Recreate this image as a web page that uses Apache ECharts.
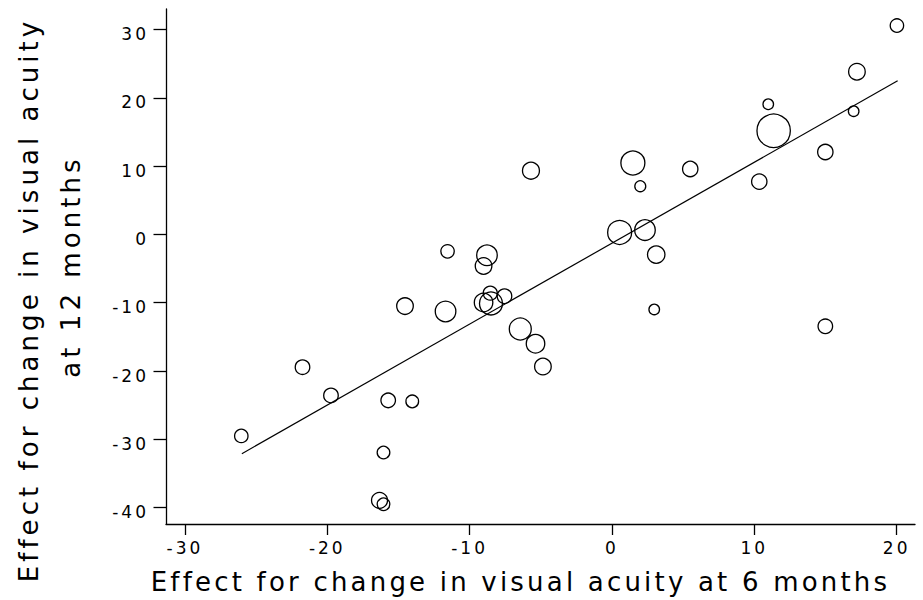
<!DOCTYPE html>
<html>
<head>
<meta charset="utf-8">
<script src="https://cdn.jsdelivr.net/npm/echarts@6.0.0/dist/echarts.min.js"></script>
<style>
  html, body { margin: 0; padding: 0; background: #fff; }
  #chart { width: 923px; height: 600px; }
  svg text[style*="17px"] { letter-spacing: 3px; }
  svg text[style*="26px"] { letter-spacing: 3.2px; }
  svg text[style*="26.1px"] { letter-spacing: 4px; }
</style>
</head>
<body>
<div id="chart"></div>
<script>
// Effect at 6 months (x), effect at 12 months (y), study weight (bubble area)
const effect6 = [-26.04, -21.74, -19.74, -16.33, -16.05, -16.05, -15.72, -14.03, -14.54, -11.69,
                 -11.55, -9.02, -8.78, -9.02, -8.55, -8.5, -7.55, -6.44, -5.37, -4.85,
                 -5.69, 0.54, 1.47, 1.99, 2.32, 3.11, 2.97, 5.5, 10.35, 10.98,
                 11.36, 14.99, 14.99, 16.98, 17.21, 20.02];
const effect12 = [-29.5, -19.44, -23.58, -38.94, -39.52, -31.94, -24.3, -24.45, -10.5, -11.28,
                  -2.48, -4.62, -3.06, -9.97, -8.6, -10.1, -9.05, -13.85, -16.0, -19.35,
                  9.33, 0.29, 10.46, 7.05, 0.63, -2.96, -10.98, 9.58, 7.73, 19.06,
                  15.17, 12.06, -13.46, 18.04, 23.82, 30.58];
const weights = [4.5, 5.3, 5.3, 6.4, 4.0, 4.0, 5.3, 4.0, 6.9, 10.6,
                 4.5, 6.9, 10.6, 8.6, 4.9, 13.2, 5.3, 12.1, 8.6, 6.9,
                 7.2, 14.4, 14.4, 3.0, 10.6, 7.6, 2.8, 5.9, 5.9, 2.8,
                 27.9, 5.9, 5.3, 2.8, 6.9, 4.5];
// Fitted regression line endpoints
const fitX = [-26.0, 20.07];
const fitY = [-32.1, 22.5];
// Tick labels
const xTicks = [-30, -20, -10, 0, 10, 20];
const yTicks = [-40, -30, -20, -10, 0, 10, 20, 30];

const xTitle = 'Effect for change in visual acuity at 6 months';
const yTitle1 = 'Effect for change in visual acuity';
const yTitle2 = 'at 12 months';

const FONT = 'DejaVu Sans';
const points = effect6.map((x, i) => [x, effect12[i], weights[i]]);
const fitLine = fitX.map((x, i) => [x, fitY[i]]);

const chart = echarts.init(document.getElementById('chart'), null, { renderer: 'svg' });

const axisLineStyle = { color: '#000', width: 1.3 };

chart.setOption({
  backgroundColor: '#fff',
  animation: false,
  grid: { left: 166, top: 9, right: 8, bottom: 74 },
  xAxis: {
    type: 'value',
    min: -31.33,
    max: 21.29,
    axisLine: { show: true, onZero: false, lineStyle: axisLineStyle },
    axisTick: { show: true, length: 11, customValues: xTicks, lineStyle: axisLineStyle },
    axisLabel: { customValues: xTicks, margin: 15, color: '#000', fontFamily: FONT, fontSize: 17 },
    splitLine: { show: false },
    name: xTitle,
    nameLocation: 'middle',
    nameGap: 45,
    nameTextStyle: { color: '#000', fontFamily: FONT, fontSize: 26, padding: [0, 40, 0, 0] }
  },
  yAxis: [{
    type: 'value',
    min: -42.4,
    max: 33.0,
    axisLine: { show: true, onZero: false, lineStyle: axisLineStyle },
    axisTick: { show: true, length: 12.5, customValues: yTicks, lineStyle: axisLineStyle },
    axisLabel: { customValues: yTicks, margin: 17, color: '#000', fontFamily: FONT, fontSize: 17,
                 verticalAlign: 'top', lineHeight: 9 },
    splitLine: { show: false },
    name: yTitle2,
    nameLocation: 'middle',
    nameGap: 82,
    nameTextStyle: { color: '#000', fontFamily: FONT, fontSize: 26.1 }
  }, {
    type: 'value',
    min: -42.4,
    max: 33.0,
    position: 'left',
    axisLine: { show: false },
    axisTick: { show: false },
    axisLabel: { show: false },
    splitLine: { show: false },
    name: yTitle1,
    nameLocation: 'middle',
    nameGap: 124,
    nameTextStyle: { color: '#000', fontFamily: FONT, fontSize: 26.1, padding: [0, 67, 0, 0] }
  }],
  series: [{
    type: 'scatter',
    data: points,
    symbol: 'circle',
    symbolSize: (v) => 6.32 * Math.sqrt(v[2]),
    itemStyle: { color: 'rgba(0,0,0,0)', borderColor: '#000', borderWidth: 1.3, opacity: 1 },
    emphasis: { disabled: true }
  }, {
    type: 'line',
    data: fitLine,
    symbol: 'none',
    lineStyle: { color: '#000', width: 1.2 },
    emphasis: { disabled: true }
  }]
});
</script>
</body>
</html>
